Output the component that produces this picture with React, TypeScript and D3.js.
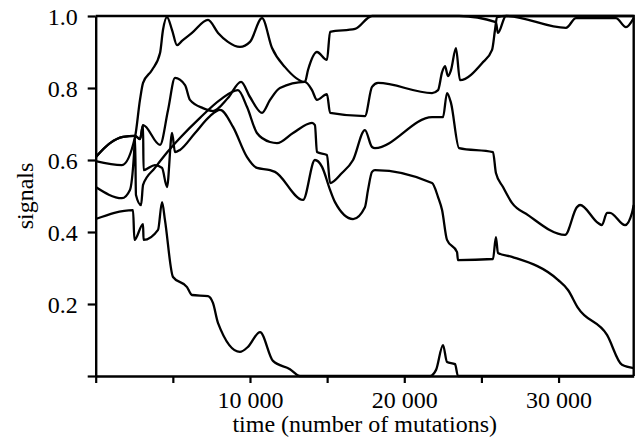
import { useRef, useEffect } from "react";
import * as d3 from "d3";

// five signal traces, [time, signal] pairs
const signalA: [number, number][] = [
  [0, 0.597], [1700, 0.586], [2550, 0.664], [2870, 0.767], [3070, 0.814], [3650, 0.85],
  [4170, 0.897], [4360, 0.961], [4620, 0.997], [4950, 0.961], [5270, 0.919], [5590, 0.931],
  [6240, 0.953], [7280, 0.989], [7930, 0.953], [8570, 0.928], [9350, 0.914], [10000, 0.928],
  [10780, 0.994], [11430, 0.911], [12270, 0.858], [13560, 0.817], [13760, 0.85], [14340, 0.9],
  [14990, 0.878], [15190, 0.956], [16810, 0.964], [17910, 1.0], [23550, 1.0], [25940, 0.983],
  [26070, 0.953], [26590, 1.0], [34870, 1.0],
];

const signalB: [number, number][] = [
  [0, 0.608], [930, 0.647], [1770, 0.664], [2550, 0.667], [2870, 0.658], [3070, 0.697],
  [4170, 0.642], [4690, 0.739], [5140, 0.828], [5790, 0.808], [6110, 0.767], [6950, 0.744],
  [7600, 0.736], [8570, 0.772], [9420, 0.817], [10000, 0.775], [10780, 0.731], [11300, 0.767],
  [11940, 0.8], [13560, 0.817], [14020, 0.794], [14340, 0.767], [14990, 0.783], [15190, 0.731],
  [17450, 0.722], [17910, 0.803], [18300, 0.814], [21800, 0.786], [22190, 0.794], [22450, 0.844],
  [22640, 0.861], [22830, 0.833], [23030, 0.85], [23350, 0.911], [23610, 0.822], [25040, 0.869],
  [25690, 0.906], [25880, 0.961], [26010, 0.997], [26590, 1.0], [30480, 0.967], [31130, 0.994],
  [33720, 0.994], [34370, 0.969], [34870, 0.994],
];

const signalC: [number, number][] = [
  [0, 0.525], [1700, 0.494], [2220, 0.517], [2480, 0.614], [2550, 0.664], [2610, 0.503],
  [2940, 0.475], [3070, 0.531], [3840, 0.578], [4490, 0.614], [5460, 0.661], [6760, 0.717],
  [8060, 0.767], [9220, 0.794], [9810, 0.747], [10450, 0.675], [11300, 0.65], [11750, 0.647],
  [12790, 0.675], [14020, 0.703], [14210, 0.697], [14340, 0.622], [14990, 0.614], [15190, 0.536],
  [15960, 0.564], [16680, 0.6], [17450, 0.683], [17910, 0.636], [18100, 0.633], [21800, 0.719],
  [22510, 0.719], [22770, 0.786], [23030, 0.758], [23550, 0.633], [25750, 0.622], [25940, 0.564],
  [26400, 0.525], [26980, 0.481], [28020, 0.447], [30420, 0.392], [31190, 0.469], [31390, 0.475],
  [32560, 0.425], [32810, 0.419], [33140, 0.453], [33330, 0.453], [34310, 0.419], [34760, 0.453],
  [34870, 0.475],
];

const signalD: [number, number][] = [
  [0, 0.608], [930, 0.647], [1770, 0.664], [2550, 0.667], [2870, 0.658], [3070, 0.697],
  [3100, 0.572], [3840, 0.586], [4300, 0.578], [4620, 0.525], [4950, 0.675], [5140, 0.622],
  [5460, 0.628], [6440, 0.675], [7410, 0.722], [8060, 0.739], [8900, 0.692], [9810, 0.608],
  [10450, 0.578], [11300, 0.572], [11620, 0.567], [13440, 0.489], [14210, 0.6], [14670, 0.581],
  [15190, 0.517], [15510, 0.483], [16680, 0.436], [17450, 0.469], [17650, 0.517], [17910, 0.567],
  [18100, 0.572], [21800, 0.536], [22190, 0.497], [22450, 0.461], [22770, 0.378], [23420, 0.344],
  [23480, 0.322], [25750, 0.325], [25940, 0.386], [26070, 0.342], [26980, 0.331], [29960, 0.267],
  [30610, 0.239], [31260, 0.189], [33140, 0.114], [34110, 0.031], [34870, 0.022],
];

const signalE: [number, number][] = [
  [0, 0.436], [2420, 0.461], [2510, 0.378], [3070, 0.422], [3100, 0.378], [4040, 0.406],
  [4300, 0.483], [4490, 0.433], [5010, 0.275], [5920, 0.247], [6240, 0.225], [7280, 0.222],
  [7600, 0.203], [7930, 0.147], [9350, 0.067], [9870, 0.081], [10650, 0.122], [11490, 0.042],
  [12590, 0.019], [13240, 0], [21670, 0], [22060, 0.017], [22510, 0.086], [22770, 0.039],
  [23290, 0.033], [23480, 0], [34870, 0],
];

const signals = [signalA, signalB, signalC, signalD, signalE];

const xTicks = [0, 5000, 10000, 15000, 20000, 25000, 30000];
const xLabelled = [10000, 20000, 30000];
const yTicks = [0, 0.2, 0.4, 0.6, 0.8, 1.0];

const App = () => {
  const svgRef = useRef<SVGSVGElement>(null);
  const width = 636;
  const height = 446;
  const left = 95.7, right = 633.7, top = 16, bottom = 376;
  const font = "'Liberation Serif', 'Times New Roman', serif";

  useEffect(() => {
    const svg = d3.select(svgRef.current);
    svg.selectAll("*").remove();

    const x = d3.scaleLinear().domain([0, 34870]).range([left, right]);
    const y = d3.scaleLinear().domain([0, 1]).range([bottom, top]);

    const fmt = d3.formatLocale({ decimal: ".", thousands: " ", grouping: [3], currency: ["", ""] }).format(",");

    // frame top + right
    svg.append("path")
      .attr("d", `M${left},${top}H${right}V${bottom}`)
      .attr("fill", "none")
      .attr("stroke", "#000")
      .attr("stroke-width", 2.4);

    const line = d3.line<[number, number]>()
      .x(d => x(d[0]))
      .y(d => y(d[1]))
      .curve(d3.curveMonotoneX);

    svg.append("g")
      .selectAll("path")
      .data(signals)
      .enter()
      .append("path")
      .attr("d", d => line(d))
      .attr("fill", "none")
      .attr("stroke", "#000")
      .attr("stroke-width", 2.3)
      .attr("stroke-linejoin", "round");

    const xAxis = svg.append("g")
      .attr("transform", `translate(0,${bottom})`)
      .call(
        d3.axisBottom(x)
          .tickValues(xTicks)
          .tickSize(7)
          .tickSizeOuter(0)
          .tickPadding(8)
          .tickFormat(d => (xLabelled.includes(+d) ? fmt(+d) : ""))
      );

    const yAxis = svg.append("g")
      .attr("transform", `translate(${left},0)`)
      .call(
        d3.axisLeft(y)
          .tickValues(yTicks)
          .tickSize(8)
          .tickSizeOuter(0)
          .tickPadding(10)
          .tickFormat(d => (+d === 0 ? "" : d3.format(".1f")(+d)))
      );

    [xAxis, yAxis].forEach(g => {
      g.select(".domain").attr("stroke-width", 2.4);
      g.selectAll(".tick line").attr("stroke-width", 2.2);
      g.selectAll(".tick text")
        .attr("font-family", font)
        .attr("font-size", 24)
        .attr("fill", "#000");
    });
    yAxis.selectAll(".tick text").attr("dy", "0.36em");

    svg.append("text")
      .attr("x", (left + right) / 2)
      .attr("y", 432)
      .attr("text-anchor", "middle")
      .attr("font-family", font)
      .attr("font-size", 24)
      .attr("fill", "#000")
      .text("time (number of mutations)");

    svg.append("text")
      .attr("transform", `translate(33,${(top + bottom) / 2}) rotate(-90)`)
      .attr("text-anchor", "middle")
      .attr("font-family", font)
      .attr("font-size", 24)
      .attr("fill", "#000")
      .text("signals");
  }, []);

  return (
    <svg
      ref={svgRef}
      width={width}
      height={height}
      style={{ position: "absolute", left: 0, top: 0, background: "#fff" }}
    />
  );
};

export default App;
